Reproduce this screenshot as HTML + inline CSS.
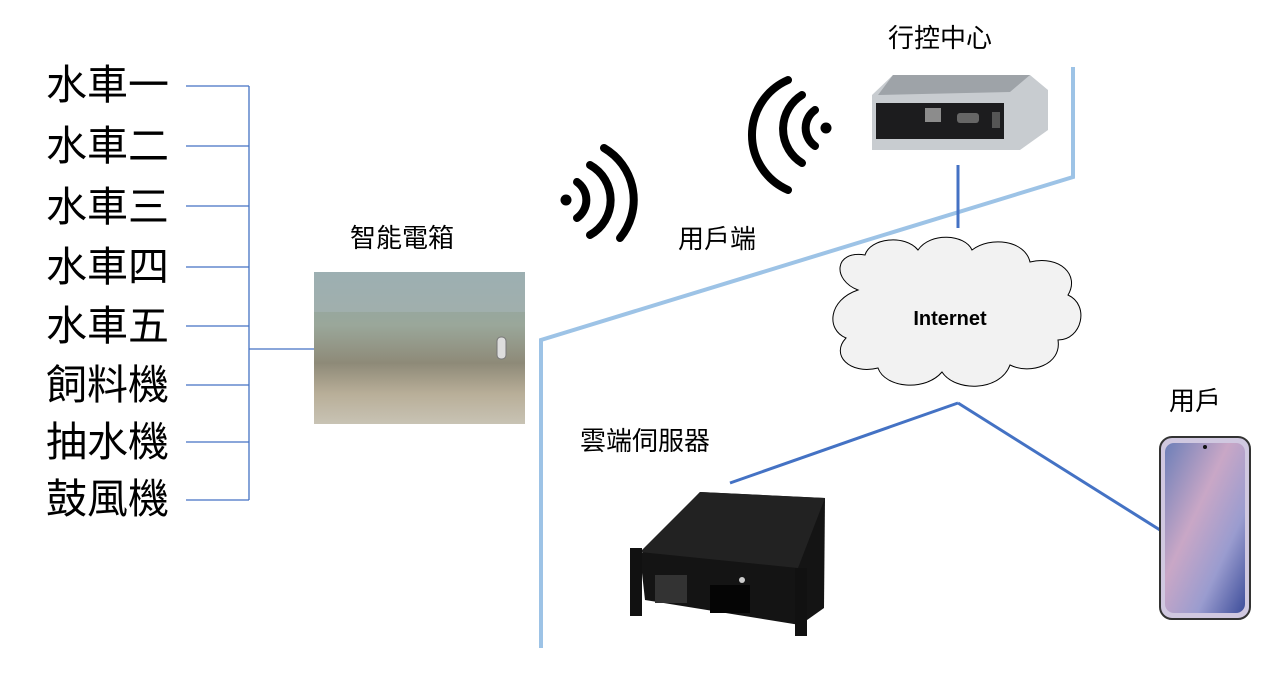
<!DOCTYPE html>
<html><head><meta charset="utf-8"><style>
body{margin:0;background:#fff;}
svg text{font-family:"Liberation Sans","Noto Sans CJK TC",sans-serif;fill:#000;}
</style></head><body>
<svg width="1280" height="694" viewBox="0 0 1280 694" xmlns="http://www.w3.org/2000/svg">
<defs>
<linearGradient id="box" x1="0" y1="0" x2="0" y2="1">
<stop offset="0" stop-color="#8fa6a8"/><stop offset="0.35" stop-color="#9aa79a"/><stop offset="0.6" stop-color="#8e8a78"/><stop offset="0.8" stop-color="#b8ae98"/><stop offset="1" stop-color="#c8c3b4"/>
</linearGradient>
<linearGradient id="ph" x1="0" y1="0" x2="1" y2="1">
<stop offset="0" stop-color="#6d7fb8"/><stop offset="0.4" stop-color="#c9a7c6"/><stop offset="0.7" stop-color="#9a9ccf"/><stop offset="1" stop-color="#3d4d9a"/>
</linearGradient>
</defs>
<g font-size="41">
<text x="46" y="99">水車一</text>
<text x="46" y="160">水車二</text>
<text x="46" y="221">水車三</text>
<text x="46" y="281">水車四</text>
<text x="46" y="340">水車五</text>
<text x="46" y="399">飼料機</text>
<text x="46" y="456">抽水機</text>
<text x="46" y="513">鼓風機</text>
</g>
<g stroke="#4472c4" stroke-width="1.3" fill="none">
<path d="M186 86H249M186 146H249M186 206H249M186 267H249M186 326H249M186 385H249M186 442H249M186 500H249M249 86V500M249 349H314"/>
</g>
<text x="350" y="247" font-size="26">智能電箱</text>
<rect x="314" y="272" width="211" height="152" fill="url(#box)"/>
<rect x="314" y="272" width="211" height="40" fill="#a9b8bc" opacity="0.5"/>
<rect x="497" y="337" width="9" height="22" rx="4" fill="#ddd" stroke="#777"/>
<polyline points="541,648 541,340 1073,177 1073,67" fill="none" stroke="#9dc3e6" stroke-width="4"/>
<g fill="none" stroke="#000" stroke-width="8" stroke-linecap="round">
<circle cx="566" cy="200" r="5.5" fill="#000" stroke="none"/>
<path d="M577 182 A22 22 0 0 1 577 218"/>
<path d="M590 165 A40 40 0 0 1 590 235"/>
<path d="M604 148 A60 60 0 0 1 620 238"/>
</g>
<g fill="none" stroke="#000" stroke-width="8" stroke-linecap="round">
<circle cx="826" cy="128" r="5.5" fill="#000" stroke="none"/>
<path d="M815 110 A22 22 0 0 0 815 146"/>
<path d="M802 95 A40 40 0 0 0 802 163"/>
<path d="M788 80 A60 60 0 0 0 788 190"/>
</g>
<text x="678" y="248" font-size="26">用戶端</text>
<text x="888" y="47" font-size="26">行控中心</text>
<polygon points="893,75 1030,75 1048,90 1048,130 1020,150 872,150 872,95" fill="#c8ccd0"/>
<polygon points="893,75 1030,75 1010,92 878,95" fill="#9ea3a8"/>
<rect x="876" y="103" width="128" height="36" fill="#1c1c1e"/>
<rect x="925" y="108" width="16" height="14" fill="#8c8c8c"/>
<rect x="957" y="113" width="22" height="10" rx="3" fill="#666"/>
<rect x="992" y="112" width="8" height="16" fill="#555"/>
<line x1="958" y1="165" x2="958" y2="228" stroke="#4472c4" stroke-width="3"/>
<path d="M858 290 C832 280 834 250 865 255 C870 238 905 234 918 250 C930 232 965 234 972 250 C990 236 1025 240 1030 262 C1060 255 1080 275 1068 295 C1090 305 1082 340 1058 340 C1062 365 1030 375 1010 365 C1000 392 955 392 942 372 C925 392 885 388 878 368 C850 375 830 355 846 338 C826 330 828 300 858 290 Z" fill="#f2f2f2" stroke="#000" stroke-width="1"/>
<text x="950" y="325" font-size="20" font-weight="bold" text-anchor="middle">Internet</text>
<line x1="958" y1="403" x2="730" y2="483" stroke="#4472c4" stroke-width="3"/>
<line x1="958" y1="403" x2="1160" y2="530" stroke="#4472c4" stroke-width="3"/>
<text x="580" y="450" font-size="26">雲端伺服器</text>
<text x="1169" y="410" font-size="26">用戶</text>
<polygon points="700,492 825,498 824,608 800,625 645,600 640,555" fill="#141414"/>
<polygon points="700,492 825,498 798,568 640,552" fill="#222"/>
<rect x="630" y="548" width="12" height="68" fill="#111"/>
<rect x="795" y="568" width="12" height="68" fill="#111"/>
<rect x="655" y="575" width="32" height="28" fill="#333"/>
<rect x="710" y="585" width="40" height="28" fill="#050505"/>
<circle cx="742" cy="580" r="3" fill="#ccc"/>
<rect x="1160" y="437" width="90" height="182" rx="12" fill="#d0c8e0" stroke="#333" stroke-width="2"/>
<rect x="1165" y="443" width="80" height="170" rx="9" fill="url(#ph)"/>
<circle cx="1205" cy="447" r="2" fill="#111"/>
</svg>
</body></html>
